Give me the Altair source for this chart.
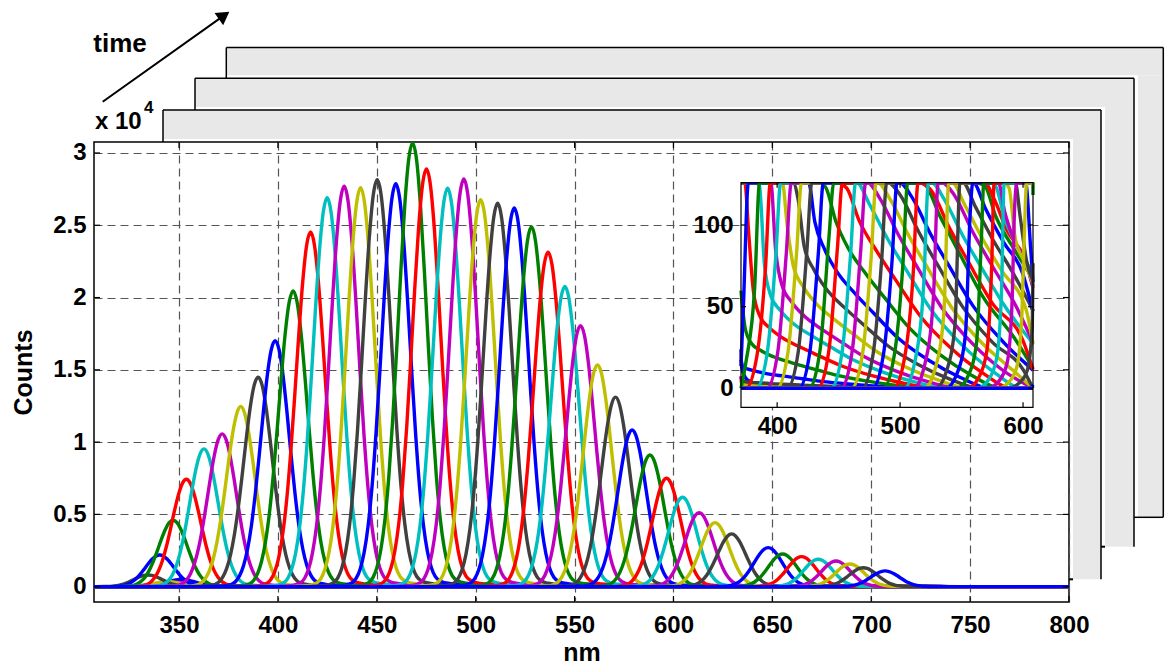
import altair as alt
import pandas as pd

# ---------------- data ----------------
# peak wavelength (nm) and peak height (x 1e4 counts) of each spectrum, in plotting order
centers = [351.2, 342.0, 352.0, 340.0, 348.0, 344.0,
           334.3, 340.2, 347.0, 353.7, 362.6, 371.8, 381.2, 390.0, 398.6, 407.7, 416.5, 424.9, 433.5, 441.8,
           450.2, 459.6, 468.1, 475.1, 485.8, 494.0, 502.5, 511.1, 519.5, 528.2, 536.6, 545.1, 553.0, 561.6,
           570.7, 579.1, 588.1, 596.5, 604.6, 613.0, 621.0, 629.4, 647.9, 655.2, 664.8, 673.2, 682.2, 689.2,
           696.0, 707.0]
heights = [0.051, 0.02, 0.015, 0.02, 0.03, 0.035,
           0.081, 0.219, 0.46, 0.743, 0.953, 1.057, 1.246, 1.449, 1.702, 2.046, 2.453, 2.69, 2.77, 2.76,
           2.815, 2.787, 3.07, 2.889, 2.757, 2.82, 2.676, 2.653, 2.619, 2.49, 2.314, 2.076, 1.806, 1.534,
           1.311, 1.084, 0.911, 0.75, 0.619, 0.512, 0.443, 0.365, 0.27, 0.226, 0.208, 0.19, 0.178, 0.157,
           0.131, 0.109]
# common line shape (relative to peak): offset from peak (nm) -> fraction of peak
prof_off = [-42, -33, -26, -22, -20, -18, -16, -14, -12, -10, -8, -6, -4, -2, 0, 2, 4, 6, 8, 10, 12, 14,
            16, 18, 20, 23, 27, 32, 40, 50, 65, 80, 100, 125, 150, 175]
prof_val = [0.0, 0.0008, 0.003, 0.01, 0.021, 0.044, 0.085, 0.151, 0.249, 0.381, 0.539, 0.707, 0.857, 0.962,
            1.0, 0.962, 0.857, 0.707, 0.539, 0.381, 0.249, 0.152, 0.087, 0.047, 0.025, 0.013, 0.008, 0.006,
            0.005, 0.0042, 0.0034, 0.0027, 0.0018, 0.001, 0.0004, 0.0]

x_ticks = [350, 400, 450, 500, 550, 600, 650, 700, 750, 800]
y_ticks = [0, 0.5, 1, 1.5, 2, 2.5, 3]
inset_x_ticks = [400, 500, 600]
inset_y_ticks = [0, 50, 100]

palette = ["#0000ff", "#008000", "#ff0000", "#00bfbf", "#bf00bf", "#bfbf00", "#404040"]

# ---------------- layout (pixels, relative to main plot origin) ----------------
W, H = 975, 460
X_DOM = [307, 800]
Y_DOM = [-0.106, 3.076]
IX_DOM = [370.6, 608.1]
IY_DOM = [-11.6, 125.9]
IX_RANGE = [647, 939]
IY_RANGE = [265.3, 40.7]
FONT = "Liberation Sans"
LW = 3.4

# ---------------- build tables ----------------
sids = [f"s{i + 1:02d}" for i in range(len(centers))]
cols = [palette[i % len(palette)] for i in range(len(centers))]

main_rows, inset_rows = [], []
for sid, c, h in zip(sids, centers, heights):
    pts = [(290.0, 0.0)] + [(c + o, h * v) for o, v in zip(prof_off, prof_val)] + [(900.0, 0.0)]
    for x, y in pts:
        main_rows.append({"s": sid, "nm": x, "v": y})
    inside = [k for k, (x, _) in enumerate(pts) if IX_DOM[0] <= x <= IX_DOM[1]]
    if inside:
        lo, hi = max(inside[0] - 1, 0), min(inside[-1] + 1, len(pts) - 1)
    else:
        lo = max(k for k, (x, _) in enumerate(pts) if x < IX_DOM[0])
        hi = lo + 1
    for x, y in pts[lo:hi + 1]:
        inset_rows.append({"s": sid, "nm": x, "c": y * 1e4})

main_df = pd.DataFrame(main_rows)
inset_df = pd.DataFrame(inset_rows)
one = pd.DataFrame({"k": [0]})
xt_df = pd.DataFrame({"nm": x_ticks})
yt_df = pd.DataFrame({"v": y_ticks})
ixt_df = pd.DataFrame({"nm": inset_x_ticks})
iyt_df = pd.DataFrame({"c": inset_y_ticks})

color_enc = alt.Color("s:N", scale=alt.Scale(domain=sids, range=cols), legend=None)


def rect(x, x2, y, y2, **mk):
    return alt.Chart(one).mark_rect(**mk).encode(
        x=alt.value(x), x2=alt.value(x2), y=alt.value(y), y2=alt.value(y2))


def seg(x, y, x2, y2, **mk):
    return alt.Chart(one).mark_rule(**mk).encode(
        x=alt.value(x), y=alt.value(y), x2=alt.value(x2), y2=alt.value(y2))


def label(txt, x, y, size, **mk):
    return alt.Chart(one).mark_text(text=txt, font=FONT, fontSize=size, fontWeight="bold",
                                    color="black", align="left", baseline="alphabetic", **mk).encode(
        x=alt.value(x), y=alt.value(y))


# ---------------- stacked "time" frames behind the axes ----------------
frames = [(69, -32, 1007, 437.3), (101, -63.7, 1040, 404.7), (132.3, -94.5, 1069.3, 375.3)]
inner = [(0, 0, W, H)] + frames[:2]
deco = []
GRAY = "#e8e8e8"
for k in (2, 1, 0):
    L, T, R, B = frames[k]
    l0, t0, r0, b0 = inner[k]
    deco.append(rect(L, R, T, t0 - 3, color=GRAY))
    deco.append(rect(r0 + 4, R, t0 - 3, B, color=GRAY))
    deco.append(seg(L, T, L, t0, color="black", strokeWidth=1.5))
    deco.append(seg(L, T, R, T, color="black", strokeWidth=1.5))
    deco.append(seg(R, T, R, B, color="black", strokeWidth=1.5))
    if k == 2:
        deco.append(seg(r0, B, R, B, color="black", strokeWidth=1.5))
    else:
        deco.append(seg(r0, B, r0 + 4, B, color="black", strokeWidth=2))

# arrow and texts
deco.append(seg(8.7, -40.3, 130.1, -126.6, color="black", strokeWidth=2))
deco.append(alt.Chart(one).mark_point(shape="triangle-up", filled=True, size=220, angle=54.6,
                                       color="black", opacity=1).encode(
    x=alt.value(130.1), y=alt.value(-126.6)))
deco.append(label("time", -0.7, -90.3, 26))
deco.append(label("x 10", 1, -12.7, 24))
deco.append(label("4", 50, -29.5, 17))

# ---------------- main spectra ----------------
xs = alt.Scale(domain=X_DOM, nice=False, zero=False)
ys = alt.Scale(domain=Y_DOM, nice=False, zero=False)
grid_kw = dict(grid=True, gridDash=[8, 5], gridColor="#555555", gridWidth=1.2,
               domain=False, ticks=False, tickSize=0)
x_axis = alt.Axis(values=x_ticks, format="d", labelPadding=11, labelFlush=False, title="nm",
                  titleX=487.5, titleY=58, titleBaseline="alphabetic", titleAlign="center", **grid_kw)
y_axis = alt.Axis(values=y_ticks, format="~g", labelPadding=8, title="Counts", titleAngle=270,
                  titleX=-63, titleY=230, titleBaseline="alphabetic", titleAlign="center", **grid_kw)

main_lines = alt.Chart(main_df).mark_line(strokeWidth=LW, clip=True, interpolate="monotone").encode(
    x=alt.X("nm:Q", scale=xs, axis=x_axis),
    y=alt.Y("v:Q", scale=ys, axis=y_axis),
    color=color_enc,
    detail="s:N",
)

tick_kw = dict(color="black", strokeWidth=1.2)
main_ticks = [
    alt.Chart(xt_df).mark_rule(**tick_kw).encode(
        x=alt.X("nm:Q", scale=xs, axis=x_axis), y=alt.value(H - 6), y2=alt.value(H)),
    alt.Chart(xt_df).mark_rule(**tick_kw).encode(
        x=alt.X("nm:Q", scale=xs, axis=x_axis), y=alt.value(0), y2=alt.value(6)),
    alt.Chart(yt_df).mark_rule(**tick_kw).encode(
        y=alt.Y("v:Q", scale=ys, axis=y_axis), x=alt.value(0), x2=alt.value(6)),
    alt.Chart(yt_df).mark_rule(**tick_kw).encode(
        y=alt.Y("v:Q", scale=ys, axis=y_axis), x=alt.value(W - 6), x2=alt.value(W)),
]

main_layer = alt.layer(*deco, main_lines, *main_ticks)

# ---------------- inset ----------------
ixs = alt.Scale(domain=IX_DOM, range=IX_RANGE, nice=False, zero=False, clamp=True)
iys = alt.Scale(domain=IY_DOM, range=IY_RANGE, nice=False, zero=False, clamp=True)
ix0, ix1 = IX_RANGE
iy1, iy0 = IY_RANGE  # iy0 top, iy1 bottom

ix_axis = alt.Axis(orient="bottom", offset=-(H - iy1), values=inset_x_ticks, format="d", grid=False,
                   domain=False, ticks=False, tickSize=0, labelPadding=7.5, labelFlush=False, title="")
iy_axis = alt.Axis(orient="left", offset=-ix0, values=inset_y_ticks, format="d", grid=False,
                   domain=False, ticks=False, tickSize=0, labelPadding=8, title="")

inset_bg = rect(ix0, ix1, iy0, iy1, color="white")
inset_lines = alt.Chart(inset_df).mark_line(strokeWidth=LW, interpolate="monotone").encode(
    x=alt.X("nm:Q", scale=ixs, axis=ix_axis),
    y=alt.Y("c:Q", scale=iys, axis=iy_axis),
    color=color_enc,
    detail="s:N",
)
inset_cover = rect(ix0 - 2, ix1 + 2, iy0 - 5, iy0 - 0.5, color="white")
inset_ticks = [
    alt.Chart(ixt_df).mark_rule(**tick_kw).encode(
        x=alt.X("nm:Q", scale=ixs, axis=ix_axis), y=alt.value(iy1 - 5), y2=alt.value(iy1)),
    alt.Chart(ixt_df).mark_rule(**tick_kw).encode(
        x=alt.X("nm:Q", scale=ixs, axis=ix_axis), y=alt.value(iy0), y2=alt.value(iy0 + 5)),
    alt.Chart(iyt_df).mark_rule(**tick_kw).encode(
        y=alt.Y("c:Q", scale=iys, axis=iy_axis), x=alt.value(ix0), x2=alt.value(ix0 + 5)),
    alt.Chart(iyt_df).mark_rule(**tick_kw).encode(
        y=alt.Y("c:Q", scale=iys, axis=iy_axis), x=alt.value(ix1 - 5), x2=alt.value(ix1)),
]
inset_border = rect(ix0, ix1, iy0, iy1, fillOpacity=0, stroke="black", strokeWidth=1.2)

inset_layer = alt.layer(inset_bg, inset_lines, inset_cover, *inset_ticks, inset_border)

chart = alt.layer(main_layer, inset_layer).resolve_scale(
    x="independent", y="independent"
).properties(
    width=W, height=H,
    autosize=alt.AutoSizeParams(type="none"),
    padding={"left": 94, "top": 142, "right": 96, "bottom": 67},
    background="white",
).configure_axis(
    labelFont=FONT, labelFontSize=24, labelFontWeight="bold", labelColor="black",
    titleFont=FONT, titleFontSize=25, titleFontWeight="bold", titleColor="black",
    labelOverlap=False,
).configure_view(
    stroke="black", strokeWidth=1.5
)

chart.save("out.html", embed_options={"renderer": "svg", "actions": False})
